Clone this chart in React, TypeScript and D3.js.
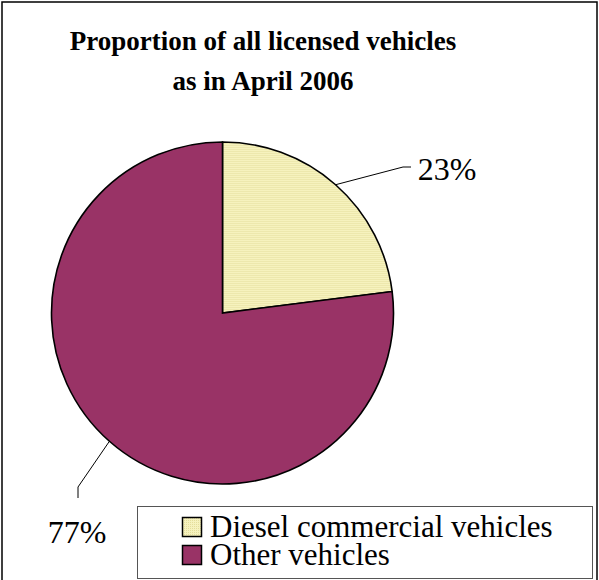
import React from "react";
import * as d3 from "d3";

const categories = ["Diesel commercial vehicles", "Other vehicles"];
const values = [23, 77];
const labels = ["23%", "77%"];
const titleLines = ["Proportion of all licensed vehicles", "as in April 2006"];

const W = 599;
const H = 580;
const cx = 222.5;
const cy = 313;
const R = 171;
const FONT = "Liberation Serif";

export default function App() {
  const pie = d3.pie<number>().sort(null).value((d) => d).startAngle(0).endAngle(2 * Math.PI);
  const arcs = pie(values);
  const arc = d3.arc<d3.PieArcDatum<number>>().innerRadius(0).outerRadius(R);
  const fills = ["url(#dots)", "#993366"];

  const leaders = [
    { elbow: [403, 167], end: [411, 167], text: [447, 180] },
    { elbow: [78, 487], end: [78, 498], text: [77, 543] },
  ];

  return (
    <svg width={W} height={H} style={{ position: "absolute", left: 0, top: 0 }}>
      <defs>
        <pattern id="dots" width={2} height={2} patternUnits="userSpaceOnUse">
          <rect width={2} height={2} fill="#F6F2BE" />
          <rect x={0} y={0} width={1} height={1} fill="#E4DD9C" />
        </pattern>
      </defs>
      <rect x={2} y={2} width={W - 4} height={H + 10} fill="white" stroke="black" strokeWidth={1.5} />
      {titleLines.map((t, i) => (
        <text
          key={i}
          x={263}
          y={50 + i * 40}
          textAnchor="middle"
          style={{ fontFamily: FONT, fontWeight: "bold", fontSize: 27 }}
        >
          {t}
        </text>
      ))}
      <g transform={`translate(${cx},${cy})`}>
        {arcs.map((a, i) => (
          <path key={i} d={arc(a) || ""} fill={fills[i]} stroke="black" strokeWidth={1.6} />
        ))}
      </g>
      {arcs.map((a, i) => {
        const mid = (a.startAngle + a.endAngle) / 2;
        const px = cx + R * Math.sin(mid);
        const py = cy - R * Math.cos(mid);
        const L = leaders[i];
        return (
          <g key={i}>
            <polyline
              points={`${px},${py} ${L.elbow[0]},${L.elbow[1]} ${L.end[0]},${L.end[1]}`}
              fill="none"
              stroke="black"
              strokeWidth={1}
            />
            <text
              x={L.text[0]}
              y={L.text[1]}
              textAnchor="middle"
              style={{ fontFamily: FONT, fontSize: 32 }}
            >
              {labels[i]}
            </text>
          </g>
        );
      })}
      <rect x={137.5} y={506.5} width={455} height={72} fill="white" stroke="#555" strokeWidth={1} />
      {categories.map((c, i) => (
        <g key={i}>
          <rect
            x={182.5}
            y={517.5 + i * 28}
            width={19}
            height={19}
            fill={fills[i]}
            stroke="black"
            strokeWidth={1.5}
          />
          <text x={210} y={537 + i * 28} style={{ fontFamily: FONT, fontSize: 31 }}>
            {c}
          </text>
        </g>
      ))}
    </svg>
  );
}
